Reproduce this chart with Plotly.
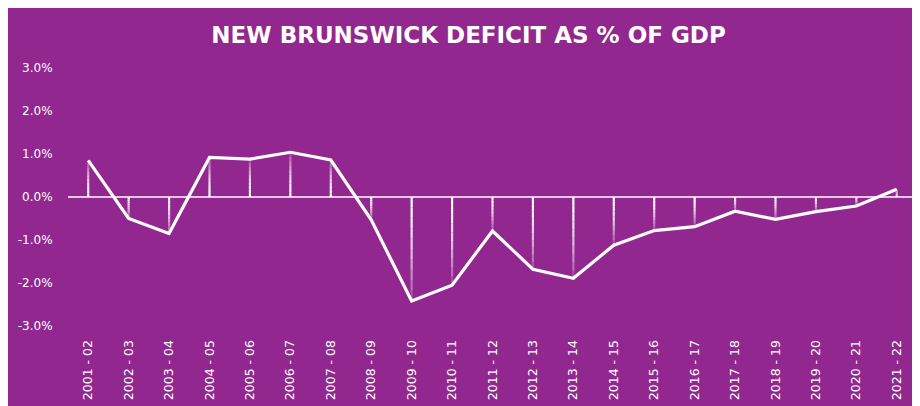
import plotly.graph_objects as go

# fiscal years and deficit (% of GDP)
years = [
    "2001 - 02", "2002 - 03", "2003 - 04", "2004 - 05", "2005 - 06", "2006 - 07", "2007 - 08",
    "2008 - 09", "2009 - 10", "2010 - 11", "2011 - 12", "2012 - 13", "2013 - 14", "2014 - 15",
    "2015 - 16", "2016 - 17", "2017 - 18", "2018 - 19", "2019 - 20", "2020 - 21", "2021 - 22",
]
deficit_pct = [
    0.85, -0.50, -0.85, 0.92, 0.88, 1.04, 0.86,
    -0.53, -2.42, -2.05, -0.79, -1.68, -1.89, -1.12,
    -0.78, -0.69, -0.33, -0.52, -0.34, -0.21, 0.18,
]
y_ticks = [3, 2, 1, 0, -1, -2, -3]

PURPLE = "#92278f"
# page body has an 8px margin, so the figure is sized to fit the window
W, H = 912, 398

fig = go.Figure()

# drop lines from zero to each point, fading away from the axis
n_seg = 10
for k in range(n_seg):
    xs, ys = [], []
    for cat, v in zip(years, deficit_pct):
        xs += [cat, cat, None]
        ys += [v * k / n_seg, v * (k + 1) / n_seg, None]
    alpha = 1.0 - 0.8 * (k / (n_seg - 1)) ** 1.6
    fig.add_trace(go.Scatter(
        x=xs, y=ys, mode="lines",
        line={"color": f"rgba(255,255,255,{alpha:.2f})", "width": 2.2},
        hoverinfo="skip", showlegend=False,
    ))

fig.add_trace(go.Scatter(
    x=years, y=deficit_pct, mode="lines",
    line={"color": "white", "width": 3.2},
    hovertemplate="%{x}: %{y:.1f}%<extra></extra>",
    showlegend=False,
))

fig.update_layout(
    width=W, height=H,
    margin={"l": 60, "r": 3, "t": 60, "b": 80},
    paper_bgcolor=PURPLE,
    plot_bgcolor=PURPLE,
    title={
        "text": "<b>NEW BRUNSWICK DEFICIT AS % OF GDP</b>",
        "x": 0.505, "xanchor": "center", "y": 0.932, "yanchor": "middle",
        "font": {"family": "DejaVu Sans", "size": 23, "color": "white"},
    },
    xaxis={
        "type": "category",
        "range": [-0.5, len(years) - 0.5],
        "tickangle": -90,
        "tickfont": {"family": "DejaVu Sans", "size": 12.5, "color": "white"},
        "showgrid": False, "zeroline": False, "showline": False,
        "ticks": "outside", "ticklen": 8, "tickcolor": "rgba(0,0,0,0)",
    },
    yaxis={
        "range": [-3, 3],
        "tickvals": y_ticks,
        "ticktext": [f"{v:.1f}%" for v in y_ticks],
        "tickfont": {"family": "DejaVu Sans", "size": 12, "color": "white"},
        "showgrid": False,
        "zeroline": True, "zerolinecolor": "rgba(255,255,255,0.75)", "zerolinewidth": 1.5,
        "ticks": "outside", "ticklen": 12, "tickcolor": "rgba(0,0,0,0)",
    },
)

fig.write_html("out.html")
